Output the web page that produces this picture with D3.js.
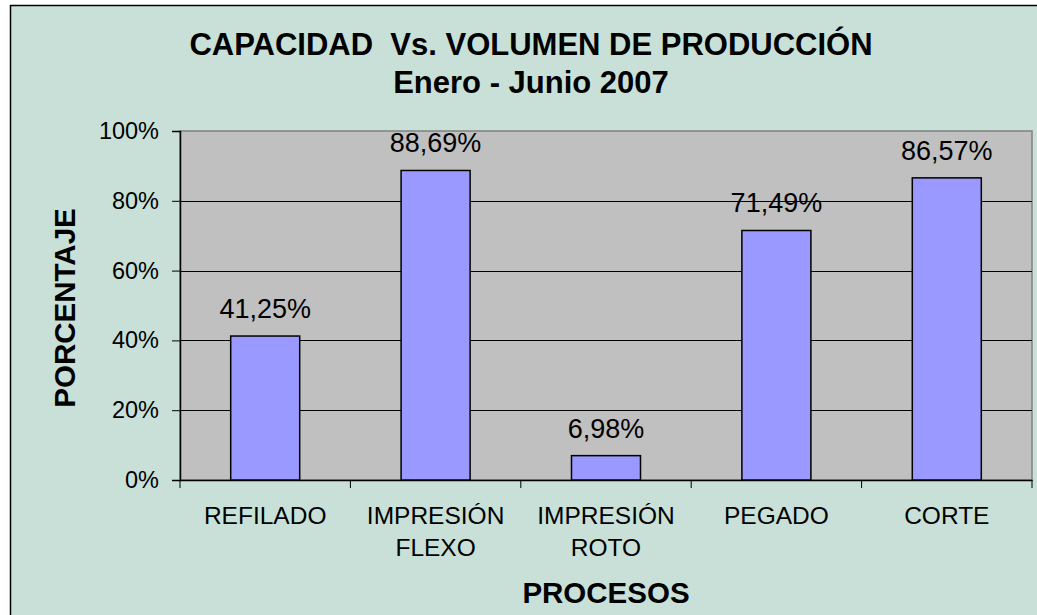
<!DOCTYPE html>
<html>
<head>
<meta charset="utf-8">
<script src="https://cdn.jsdelivr.net/npm/d3@7"></script>
<style>
	body { margin: 0; background: #ffffff; }
	text { font-family: "Liberation Sans", Arial, sans-serif; fill: #000; }
</style>
</head>
<body>
<svg id="chart" width="1037" height="615"></svg>
<script>

var procesos = ["REFILADO", "IMPRESIÓN FLEXO", "IMPRESIÓN ROTO", "PEGADO", "CORTE"];
var porcentajes = [41.25, 88.69, 6.98, 71.49, 86.57];
var yTicks = [0, 20, 40, 60, 80, 100];
var titulo = ["CAPACIDAD  Vs. VOLUMEN DE PRODUCCIÓN", "Enero - Junio 2007"];

var svg = d3.select("#chart");
var plot = {left: 180, right: 1032, top: 131, bottom: 480};

var es = d3.formatLocale({decimal: ",", thousands: ".", grouping: [3], currency: ["", "%"]});
var fmt = es.format(".2f");

var x = d3.scaleBand()
		.domain(procesos)
		.range([plot.left, plot.right]);

var y = d3.scaleLinear()
		.domain([0, 100])
		.range([plot.bottom, plot.top]);

function drawFrame() { // chart background + plot area
	svg.append("rect")
		.attr("x", 10.5).attr("y", 5.5)
		.attr("width", 1060).attr("height", 640)
		.style("fill", "#c8e0d8")
		.style("stroke", "#000")
		.style("stroke-width", 1.5);

	svg.append("rect")
		.attr("x", plot.left).attr("y", plot.top)
		.attr("width", plot.right - plot.left)
		.attr("height", plot.bottom - plot.top)
		.style("fill", "#c0c0c0")
		.style("stroke", "#808080")
		.style("stroke-width", 1.5);
}

function drawAxes() {
	// gridlines
	svg.selectAll(".grid")
		.data(yTicks.slice(1, -1))
		.enter().append("line")
		.attr("class", "grid")
		.attr("x1", plot.left).attr("x2", plot.right)
		.attr("y1", function(d) { return Math.round(y(d)) + 0.5; })
		.attr("y2", function(d) { return Math.round(y(d)) + 0.5; })
		.style("stroke", "#000")
		.style("stroke-width", 1);

	var yAxis = svg.append("g")
		.attr("transform", "translate(" + plot.left + ",0)")
		.call(d3.axisLeft(y).tickValues(yTicks).tickSize(8).tickPadding(13)
			.tickFormat(function(d) { return d + "%"; }));
	yAxis.select(".domain").style("stroke", "#000").style("stroke-width", 1.5);
	yAxis.selectAll("text").style("font-size", "23.5px").style("font-family", "Liberation Sans, Arial, sans-serif");

	var xAxis = svg.append("g")
		.attr("transform", "translate(0," + plot.bottom + ")")
		.call(d3.axisBottom(x).tickSize(0).tickFormat(""));
	xAxis.select(".domain").style("stroke", "#000").style("stroke-width", 1.5);

	// ticks between categories
	var edges = procesos.map(function(d) { return x(d); }).concat([plot.right]);
	xAxis.selectAll(".edge")
		.data(edges)
		.enter().append("line")
		.attr("class", "edge")
		.attr("x1", function(d) { return d; }).attr("x2", function(d) { return d; })
		.attr("y1", 0).attr("y2", 8)
		.style("stroke", "#000");

	// category labels, split into lines
	var lab = svg.selectAll(".cat")
		.data(procesos)
		.enter().append("text")
		.attr("class", "cat")
		.attr("text-anchor", "middle")
		.style("font-size", "24.5px");
	lab.selectAll("tspan")
		.data(function(d) { return d.split(" ").map(function(t) { return {t: t, c: d}; }); })
		.enter().append("tspan")
		.attr("x", function(d) { return x(d.c) + x.bandwidth() / 2; })
		.attr("y", function(d, i) { return 524 + i * 32; })
		.text(function(d) { return d.t; });
}

function drawBars() {
	var w = x.bandwidth() * 0.405;

	svg.selectAll(".bar")
		.data(porcentajes)
		.enter().append("rect")
		.attr("class", "bar")
		.attr("x", function(d, i) { return x(procesos[i]) + (x.bandwidth() - w) / 2; })
		.attr("y", function(d) { return y(d); })
		.attr("width", w)
		.attr("height", function(d) { return y(0) - y(d); })
		.style("fill", "#9999ff")
		.style("stroke", "#000")
		.style("stroke-width", 1.5);

	svg.selectAll(".val")
		.data(porcentajes)
		.enter().append("text")
		.attr("class", "val")
		.attr("text-anchor", "middle")
		.attr("x", function(d, i) { return x(procesos[i]) + x.bandwidth() / 2; })
		.attr("y", function(d) { return y(d) - 18; })
		.style("font-size", "27px")
		.text(function(d) { return fmt(d) + "%"; });
}

function drawTitles() {
	svg.selectAll(".title")
		.data(titulo)
		.enter().append("text")
		.attr("class", "title")
		.attr("x", 531)
		.attr("y", function(d, i) { return 55 + i * 38; })
		.attr("text-anchor", "middle")
		.style("font-size", "31px")
		.style("font-weight", "bold")
		.style("white-space", "pre")
		.text(function(d) { return d; });

	svg.append("text")
		.attr("transform", "translate(75,308) rotate(-90)")
		.attr("text-anchor", "middle")
		.style("font-size", "29.5px")
		.style("font-weight", "bold")
		.text("PORCENTAJE");

	svg.append("text")
		.attr("x", (plot.left + plot.right) / 2)
		.attr("y", 603)
		.attr("text-anchor", "middle")
		.style("font-size", "29.5px")
		.style("font-weight", "bold")
		.text("PROCESOS");
}

drawFrame();
drawAxes();
drawBars();
drawTitles();

</script>
</body>
</html>
